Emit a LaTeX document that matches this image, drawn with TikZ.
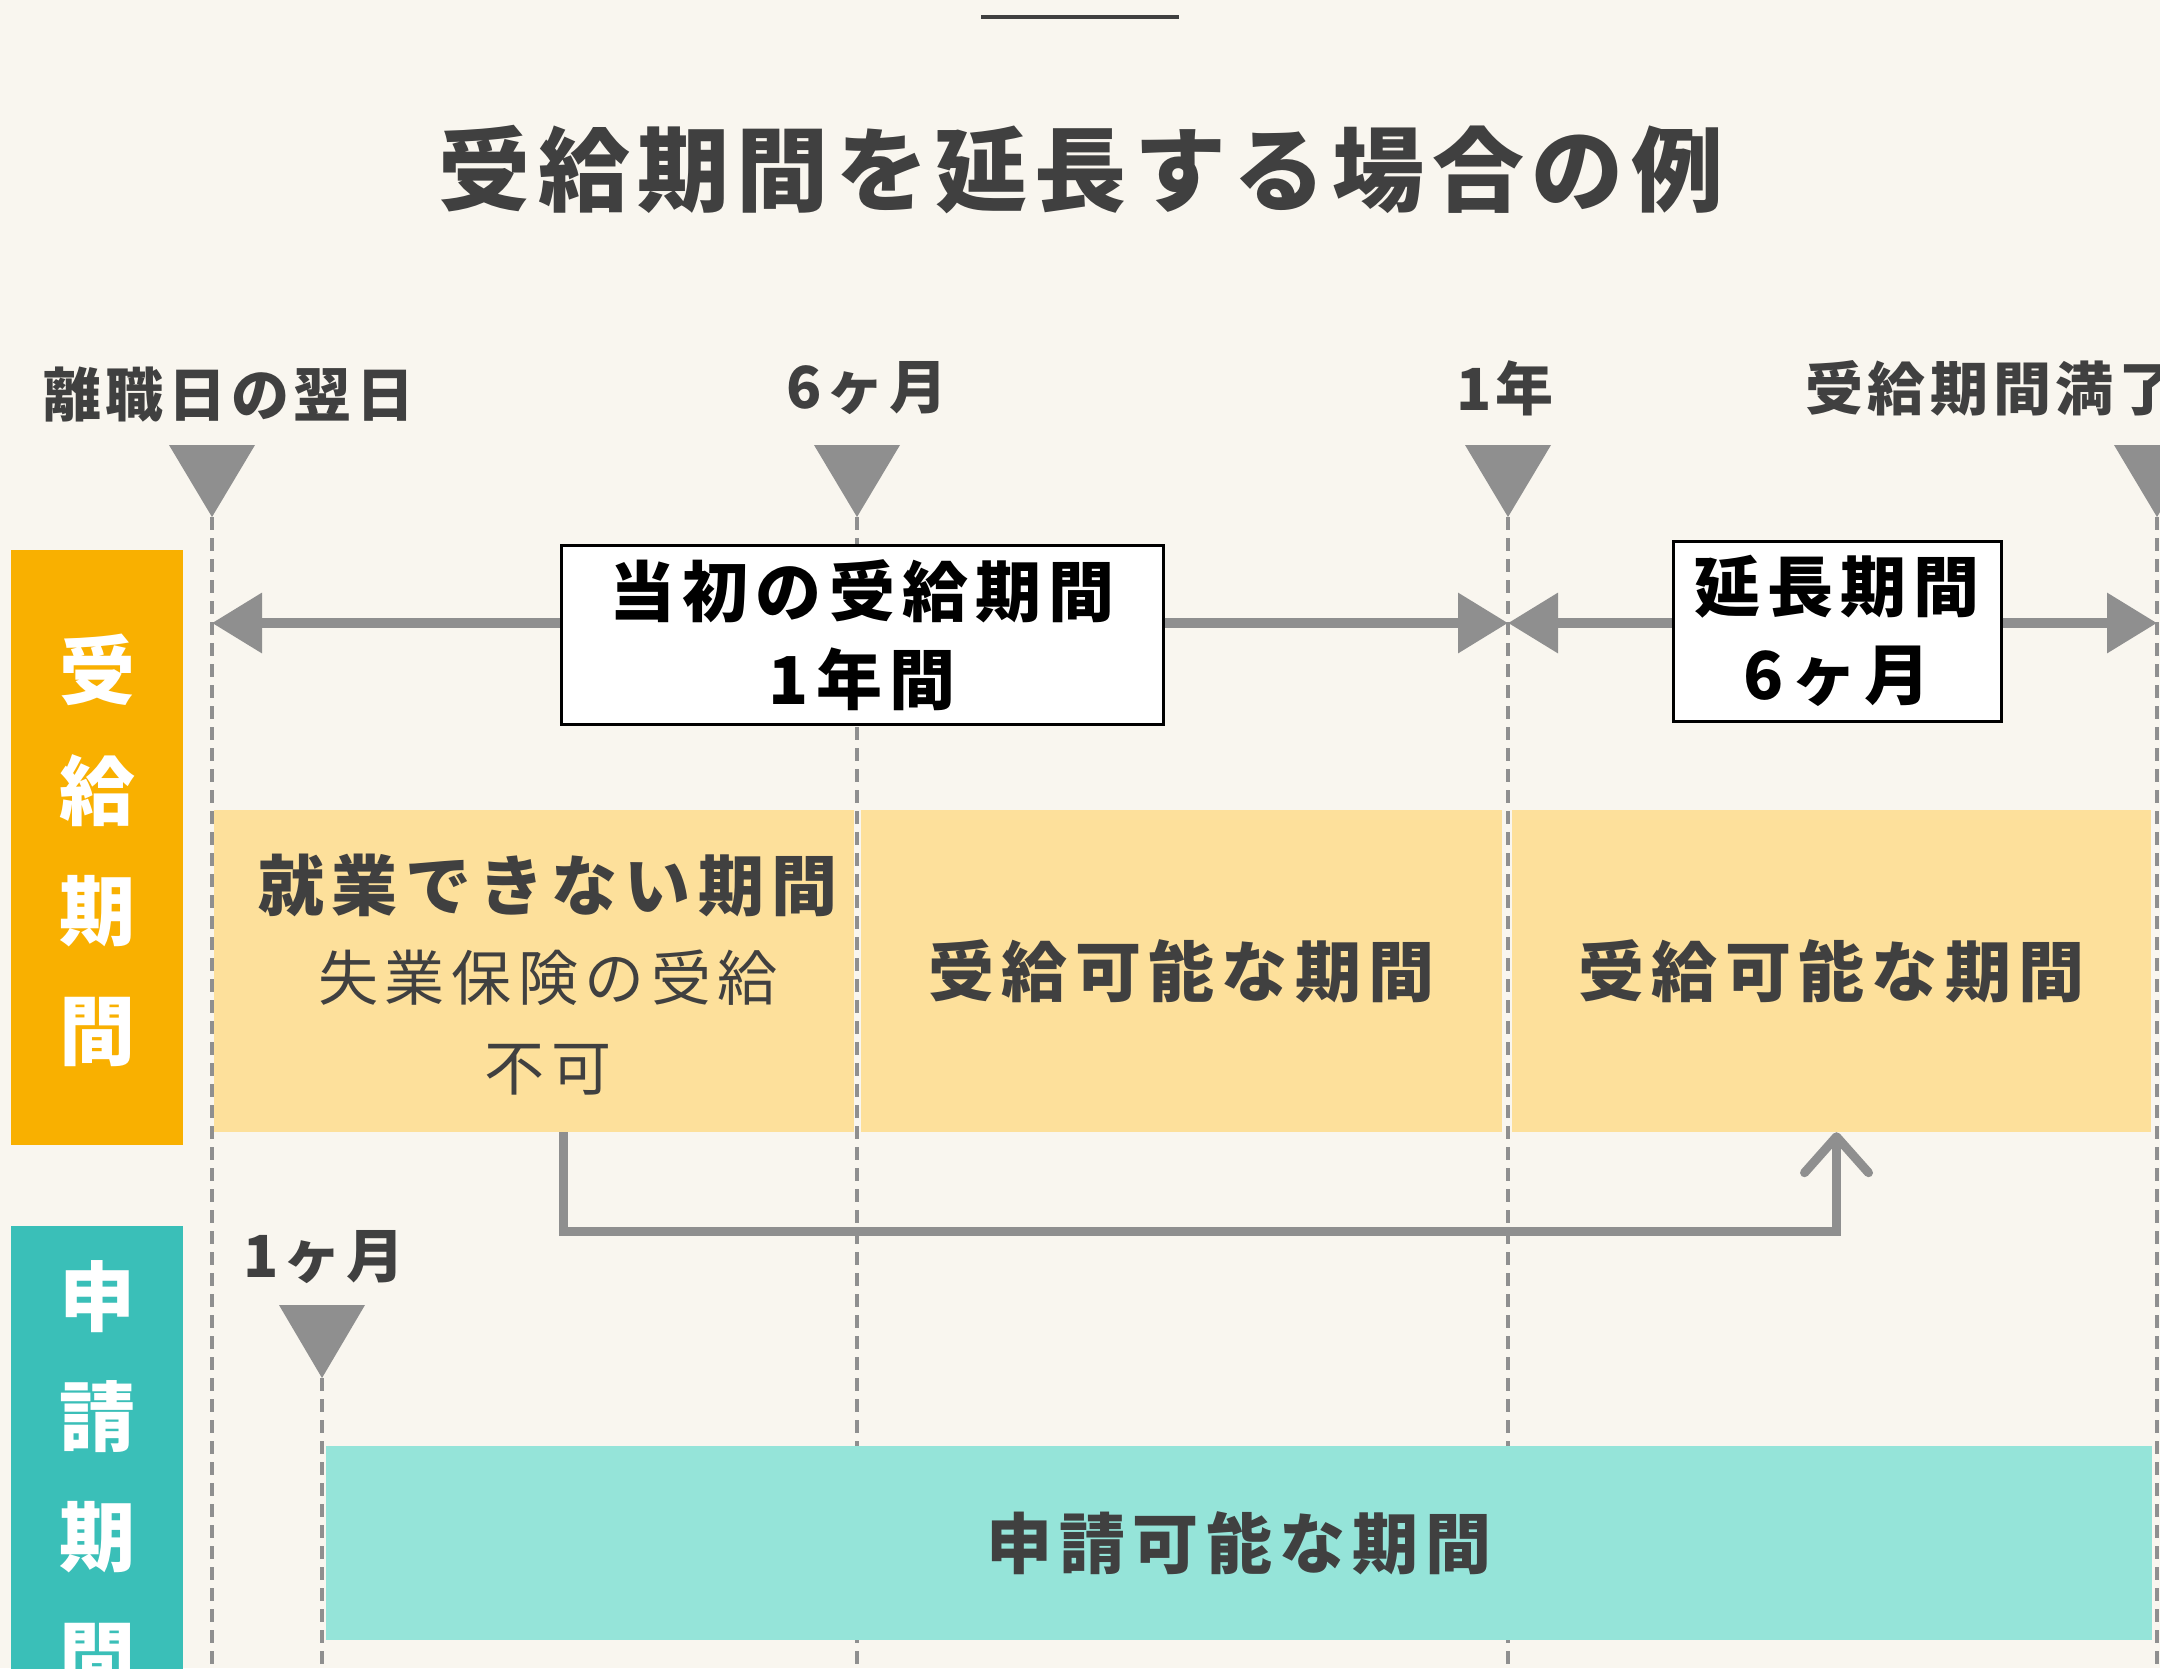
\documentclass[tikz,border=0pt]{standalone}
\usepackage{fontspec}
\usepackage{tikz}
\usetikzlibrary{arrows.meta}
\newfontfamily\jpfont[LetterSpace=8]{Noto Sans CJK JP}
\newfontfamily\jpwide[LetterSpace=11]{Noto Sans CJK JP}

\definecolor{bgcream}{HTML}{F9F6EF}
\definecolor{textdark}{HTML}{404040}
\definecolor{markgray}{HTML}{8F8F8F}
\definecolor{orangeside}{HTML}{F9B000}
\definecolor{yellowbox}{HTML}{FDE09B}
\definecolor{tealside}{HTML}{3ABFB8}
\definecolor{tealbox}{HTML}{95E4D9}

\tikzset{
  tick/.style={draw=markgray, line width=4pt, dash pattern=on 13pt off 8pt},
  marker/.style={fill=markgray},
  timelabel/.style={text=textdark, inner sep=0pt, font=\jpfont\bfseries\fontsize{58}{64}\selectfont},
  span/.style={draw=markgray, line width=10pt, -{Triangle[length=50pt 0 0,width=58pt 0 0]}},
  spanbox/.style={draw=black, line width=3pt, fill=white, inner sep=0pt, align=center, text=black,
    font=\jpwide\bfseries\fontsize{66}{88}\selectfont},
  sidebox/.style={inner sep=0pt, align=center, text=white, minimum width=172pt,
    font=\jpfont\bfseries\fontsize{76}{120}\selectfont},
  periodbox/.style={fill=yellowbox, inner sep=0pt, minimum height=322pt, text=textdark,
    font=\jpwide\bfseries\fontsize{66}{80}\selectfont},
  link/.style={draw=markgray, line width=9pt, -{Straight Barb[length=36pt 0 0,width=64pt 0 0,round]}},
}

\begin{document}
\begin{tikzpicture}[x=1pt, y=-1pt]
  \useasboundingbox (0,0) rectangle (2160,1668);
  \fill[bgcream] (0,0) rectangle (2160,1668);

  % Title with the short rule above it
  \draw[textdark, line width=4pt] (981,17) -- (1179,17);
  \node[text=textdark, font=\jpfont\bfseries\fontsize{92}{100}\selectfont] (title) at (1081,170)
    {受給期間を延長する場合の例};

  % Time marks on the upper row
  \coordinate (bottom) at (0,1668);
  \coordinate (t0) at (212,517);
  \coordinate (t1) at (857,517);
  \coordinate (t2) at (1508,517);
  \coordinate (t3) at (2157,517);
  \coordinate (t4) at (322,1378);
  \foreach \p in {t0,t1,t2,t3}{
    \fill[marker] (\p) -- ++(-43,-72) -- ++(86,0) -- cycle;
    \draw[tick] (\p) -- (\p |- bottom);
  }
  \fill[marker] (t4) -- ++(-43,-73) -- ++(86,0) -- cycle;
  \draw[tick] (t4) -- (t4 |- bottom);

  \node[timelabel] (l0) at (229,395) {離職日の翌日};
  \node[timelabel] (l1) at (867,388) {6ヶ月};
  \node[timelabel] (l2) at (1505,388) {1年};
  \node[timelabel, anchor=west] (l3) at (1805,388) {受給期間満了};
  \node[timelabel] (l4) at (324,1257) {1ヶ月};

  % Side labels
  \fill[orangeside] (11,550) rectangle (183,1145);
  \node[sidebox] (side1) at (97,850) {受\\給\\期\\間};
  \fill[tealside] (11,1226) rectangle (183,1700);
  \node[sidebox] (side2) at (97,1477) {申\\請\\期\\間};

  % Periods
  \node[periodbox, minimum width=640pt] (nw) at (534,971) {};
  \node[text=textdark, align=center, font=\jpwide\fontsize{60}{90}\selectfont] (nwtext) at (548,975)
    {{\bfseries\fontsize{66}{90}\selectfont 就業できない期間}\\失業保険の受給\\不可};
  \node[periodbox, minimum width=641pt] (ok1) at (1181.5,971) {受給可能な期間};
  \node[periodbox, minimum width=639pt] (ok2) at (1831.5,971) {受給可能な期間};
  \node[periodbox, fill=tealbox, minimum width=1826pt, minimum height=194pt] (apply) at (1239,1543)
    {申請可能な期間};

  % Span arrows
  \coordinate (a0) at (212,623);
  \coordinate (a1) at (1508,623);
  \coordinate (a2) at (2157,623);
  \node[spanbox, minimum width=602pt, minimum height=179pt] (init) at (862,635)
    {当初の受給期間\\1年間};
  \node[spanbox, minimum width=328pt, minimum height=180pt] (ext) at (1837,631)
    {延長期間\\6ヶ月};
  \draw[span] (init.west |- a0) -- (a0);
  \draw[span] (init.east |- a1) -- (a1);
  \draw[span] (ext.west |- a1) -- (a1);
  \draw[span] (ext.east |- a2) -- (a2);

  % Carry the blocked period over
  \draw[link] ([xshift=29pt]nw.south) -- ++(0,99) -| ([xshift=5pt]ok2.south);
\end{tikzpicture}
\end{document}
